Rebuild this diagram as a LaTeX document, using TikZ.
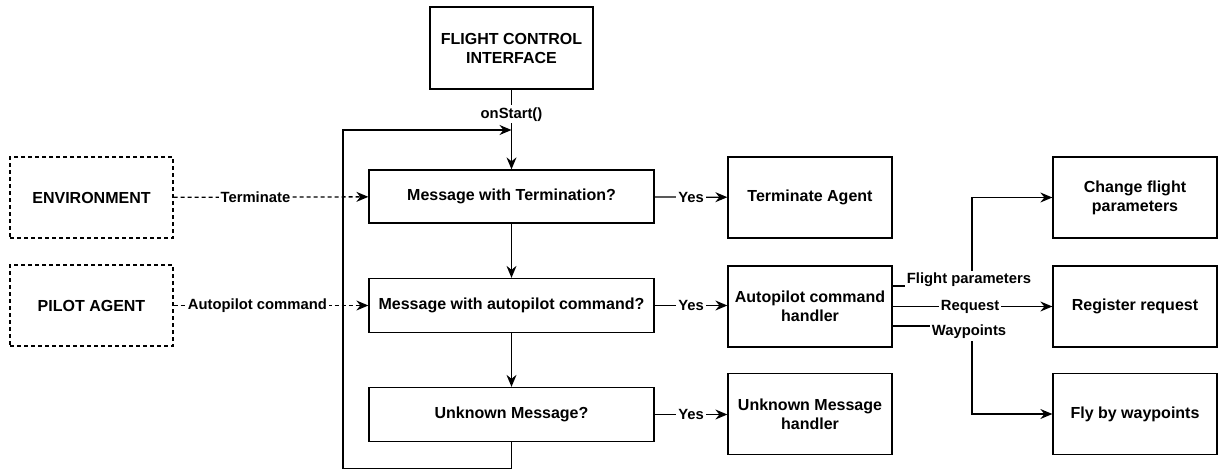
\documentclass[tikz,border=0pt]{standalone}
\usepackage{fontspec}
\setmainfont{Liberation Sans}
\usetikzlibrary{positioning, calc, arrows.meta}
\definecolor{Ink}{HTML}{000000}
\definecolor{Paper}{HTML}{FFFFFF}
\newcommand{\fcboxfont}{\fontsize{16}{19}\selectfont\bfseries}
\newcommand{\fclabelfont}{\fontsize{14.8}{17}\selectfont\bfseries}
\tikzset{
    blocknode/.style={rectangle, draw=Ink, line width=1.3pt, fill=Paper, text=Ink, align=center, font=\fcboxfont, minimum width=164pt, minimum height=81pt, inner sep=2pt},
    agentnode/.style={blocknode, dash pattern=on 4pt off 3pt},
    checknode/.style={blocknode, minimum width=285pt, minimum height=54pt},
    edgelabel/.style={fill=Paper, text=Ink, font=\fclabelfont, inner sep=2pt},
    arrow/.style={-{Stealth[length=12pt, width=10pt, inset=4pt]}, line width=1.3pt, color=Ink},
    dasharrow/.style={arrow, dash pattern=on 4pt off 3pt},
}
\begin{document}
\begin{tikzpicture}[x=1pt, y=-1pt]
    \useasboundingbox[fill=Paper] (0,0) rectangle (1222,468);

    % Start and external agents
    \node[blocknode, minimum width=163pt, minimum height=82pt] (fci) at (511.5, 48) {FLIGHT CONTROL\\INTERFACE};
    \node[agentnode, minimum width=163pt] (env) at (91.5, 197.5) {ENVIRONMENT};
    \node[agentnode, minimum width=163pt] (pilot) at (91.5, 305.5) {PILOT AGENT};

    % Checks
    \node[checknode, minimum height=53pt] (msgterm) at (511.5, 196.5) {Message with Termination?};
    \node[checknode] (msgauto) at (511.5, 305.5) {Message with autopilot command?};
    \node[checknode] (msgunk) at (511.5, 414.5) {Unknown Message?};

    % Handlers
    \node[blocknode] (termagent) at (810, 197.5) {Terminate Agent};
    \node[blocknode] (autohandler) at (810, 306.5) {Autopilot command\\handler};
    \node[blocknode] (unkhandler) at (810, 414) {Unknown Message\\handler};

    % Autopilot actions
    \node[blocknode] (changefp) at (1135, 197.5) {Change flight\\parameters};
    \node[blocknode] (regreq) at (1135, 306.5) {Register request};
    \node[blocknode] (flywp) at (1135, 414) {Fly by waypoints};

    % Loop coordinates
    \coordinate (loopin) at (511.5, 130);
    \coordinate (loopdown) at (511.5, 468.9);
    \coordinate (loopleft) at (343, 468.9);
    \coordinate (loopup) at (343, 130);
    \coordinate (fpturn) at (972, 286);
    \coordinate (wpturn) at (972, 326);

    % Main flow
    \draw[arrow] (fci) -- (msgterm) node[edgelabel, pos=0.31] {onStart()};
    \draw[arrow] (msgterm) -- (msgauto);
    \draw[arrow] (msgauto) -- (msgunk);
    \draw[arrow] (msgunk.south) -- (loopdown) -- (loopleft) -- (loopup) -- (loopin);

    % Incoming messages
    \draw[dasharrow] (env) -- (msgterm) node[edgelabel, pos=0.42] {Terminate};
    \draw[dasharrow] (pilot) -- (msgauto) node[edgelabel, pos=0.43] {Autopilot command};

    % Yes branches
    \draw[arrow] (msgterm) -- (termagent) node[edgelabel, midway] {Yes};
    \draw[arrow] (msgauto) -- (msgauto -| autohandler.west) node[edgelabel, midway] {Yes};
    \draw[arrow] (msgunk) -- (msgunk -| unkhandler.west) node[edgelabel, midway] {Yes};

    % Handler outputs
    \draw[arrow] ([yshift=20.5pt]autohandler.east) -- (fpturn) -- (fpturn |- changefp) -- (changefp);
    \node[edgelabel] (fplabel) at (969, 280) {Flight parameters};
    \draw[arrow] (autohandler) -- (regreq) node[edgelabel, pos=0.485] {Request};
    \draw[arrow] ([yshift=-19.5pt]autohandler.east) -- (wpturn) -- (wpturn |- flywp) -- (flywp);
    \node[edgelabel] (wplabel) at (969, 332) {Waypoints};
\end{tikzpicture}
\end{document}
